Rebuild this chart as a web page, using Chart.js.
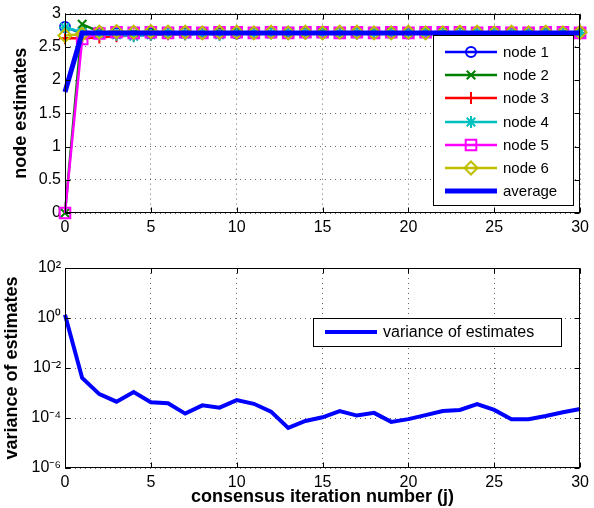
<!DOCTYPE html>
<html><head><meta charset="utf-8">
<script src="https://cdn.jsdelivr.net/npm/chart.js@4/dist/chart.umd.min.js"></script>
<style>
html,body{margin:0;padding:0;background:#fff;}
#wrap{position:relative;width:594px;height:508px;overflow:hidden;}
#c1{position:absolute;left:0;top:0;}
#c2{position:absolute;left:0;top:250px;}
</style></head><body>
<div id="wrap">
<canvas id="c1" width="594" height="250"></canvas>
<canvas id="c2" width="594" height="258"></canvas>
</div>
<script>
// ---------- data ----------
const iterations = [0,1,2,3,4,5,6,7,8,9,10,11,12,13,14,15,16,17,18,19,20,21,22,23,24,25,26,27,28,29,30];
const xTickValues = [0,5,10,15,20,25,30];
const xTickLabels = ['0','5','10','15','20','25','30'];
const estTickValues = [0,0.5,1,1.5,2,2.5,3];
const estTickLabels = ['0','0.5','1','1.5','2','2.5','3'];
const varTickValues = [1e-6,1e-4,1e-2,1,1e2];
const varTickLabels = ['10\u207B\u2076','10\u207B\u2074','10\u207B\u00B2','10\u2070','10\u00B2'];
const seriesNames = ['node 1','node 2','node 3','node 4','node 5','node 6','average'];

const node1 = [2.80,2.70,2.72,2.71,2.72,2.70,2.71,2.71,2.72,2.71,2.70,2.71,2.71,2.72,2.71,2.71,2.72,2.71,2.71,2.71,2.70,2.71,2.72,2.71,2.72,2.71,2.71,2.71,2.70,2.71,2.71];
const node2 = [0.00,2.84,2.73,2.70,2.71,2.72,2.71,2.70,2.71,2.71,2.72,2.71,2.70,2.71,2.71,2.72,2.71,2.71,2.72,2.71,2.71,2.72,2.71,2.70,2.71,2.71,2.71,2.72,2.71,2.71,2.72];
const node3 = [2.63,2.63,2.64,2.66,2.67,2.68,2.69,2.69,2.70,2.69,2.70,2.70,2.71,2.70,2.70,2.70,2.71,2.70,2.70,2.71,2.71,2.70,2.70,2.71,2.70,2.71,2.71,2.70,2.71,2.70,2.70];
const node4 = [2.79,2.72,2.69,2.68,2.66,2.68,2.70,2.69,2.70,2.68,2.70,2.71,2.70,2.72,2.71,2.70,2.71,2.70,2.71,2.70,2.71,2.71,2.70,2.70,2.72,2.70,2.71,2.71,2.71,2.70,2.71];
const node5 = [0.00,2.62,2.70,2.72,2.71,2.72,2.71,2.72,2.71,2.72,2.72,2.71,2.72,2.71,2.72,2.72,2.71,2.72,2.71,2.72,2.71,2.72,2.72,2.72,2.71,2.72,2.71,2.71,2.72,2.72,2.71];
const node6 = [2.67,2.69,2.72,2.73,2.72,2.73,2.72,2.72,2.71,2.72,2.72,2.71,2.72,2.71,2.72,2.71,2.72,2.72,2.71,2.71,2.72,2.71,2.71,2.72,2.72,2.71,2.72,2.71,2.72,2.71,2.72];
const average = [1.82,2.71,2.71,2.71,2.71,2.71,2.71,2.71,2.71,2.71,2.71,2.71,2.71,2.71,2.71,2.71,2.71,2.71,2.71,2.71,2.71,2.71,2.71,2.71,2.71,2.71,2.71,2.71,2.71,2.71,2.71];

const varianceName = 'variance of estimates';
const variance = [1.35,4.0e-3,9.0e-4,4.5e-4,1.1e-3,4.3e-4,3.9e-4,1.5e-4,3.2e-4,2.6e-4,5.2e-4,3.7e-4,1.8e-4,4.0e-5,7.6e-5,1.07e-4,1.9e-4,1.25e-4,1.6e-4,7.0e-5,9.0e-5,1.3e-4,1.9e-4,2.1e-4,3.6e-4,2.1e-4,9.0e-5,9.0e-5,1.2e-4,1.7e-4,2.3e-4];

// ---------- styles ----------
const FONT = "'Liberation Sans', Arial, Helvetica, sans-serif";
Chart.defaults.font.family = FONT;
Chart.defaults.color = '#000';

const nodeStyles = [
  {color:'#0000ff', point:'circle',   r:5},
  {color:'#008000', point:'crossRot', r:6},
  {color:'#ff0000', point:'cross',    r:6},
  {color:'#00bfbf', point:'star',     r:6},
  {color:'#ff00ff', point:'rect',     r:7.5},
  {color:'#bfbf00', point:'rectRot',  r:6.5}
];
const nodeSeries = [node1,node2,node3,node4,node5,node6];

function pts(arr){ return iterations.map((x,i)=>({x:x, y:arr[i]})); }

const framePlugin = {
  id:'frame',
  afterDatasetsDraw(chart){
    const {ctx, chartArea:a, scales} = chart;
    const L = 5;
    ctx.save();
    ctx.strokeStyle = '#000'; ctx.lineWidth = 1; ctx.setLineDash([]);
    const l = Math.round(a.left)+0.5, t = Math.round(a.top)+0.5, r = Math.round(a.right)-0.5, b = Math.round(a.bottom)-0.5;
    ctx.strokeRect(l, t, r-l, b-t);
    ctx.beginPath();
    scales.x.ticks.forEach(tk=>{
      const x = Math.round(scales.x.getPixelForValue(tk.value))+0.5;
      ctx.moveTo(x,b); ctx.lineTo(x,b-L); ctx.moveTo(x,t); ctx.lineTo(x,t+L);
    });
    scales.y.ticks.forEach(tk=>{
      const y = Math.round(scales.y.getPixelForValue(tk.value))+0.5;
      ctx.moveTo(l,y); ctx.lineTo(l+L,y); ctx.moveTo(r,y); ctx.lineTo(r-L,y);
    });
    ctx.stroke();
    ctx.restore();
  }
};

const legendBoxPlugin = {
  id:'legendBox',
  afterDraw(chart, args, o){
    if(!o || !o.display) return;
    const ctx = chart.ctx;
    const ds = chart.data.datasets;
    ctx.save();
    ctx.setLineDash([]);
    ctx.fillStyle = '#fff';
    ctx.fillRect(o.left, o.top, o.width, o.height);
    ctx.strokeStyle = '#000'; ctx.lineWidth = 1;
    ctx.strokeRect(o.left+0.5, o.top+0.5, o.width, o.height);
    ctx.font = o.font; ctx.textBaseline = 'middle'; ctx.textAlign = 'left';
    ds.forEach((d,i)=>{
      const y = Math.round(o.top + o.firstY + i*o.spacing);
      const x0 = o.left + o.sampleX;
      ctx.strokeStyle = d.borderColor; ctx.lineWidth = d.borderWidth;
      ctx.beginPath(); ctx.moveTo(x0,y); ctx.lineTo(x0+o.sampleW,y); ctx.stroke();
      if(d.pointRadius > 0 && Chart.helpers && Chart.helpers.drawPoint){
        ctx.fillStyle = 'rgba(0,0,0,0)';
        ctx.strokeStyle = d.borderColor; ctx.lineWidth = d.pointBorderWidth;
        Chart.helpers.drawPoint(ctx, {pointStyle:d.pointStyle, radius:d.pointRadius, rotation:0, borderWidth:d.pointBorderWidth}, x0+o.sampleW/2, y);
      }
      ctx.fillStyle = '#000';
      ctx.fillText(d.label, o.left + o.textX, y+1);
    });
    ctx.restore();
  }
};

const gridOpts = {color:'rgba(0,0,0,0.6)', lineWidth:1, drawTicks:false};
const borderOpts = {display:false, dash:[1,4]};
const tickFont = {size:16, family:FONT};
const titleFont = {size:18, weight:'bold', family:FONT};

// ---------- top chart ----------
const topDatasets = nodeSeries.map((arr,i)=>({
  label: seriesNames[i],
  data: pts(arr),
  borderColor: nodeStyles[i].color,
  backgroundColor: 'rgba(0,0,0,0)',
  borderWidth: 2.5,
  pointStyle: nodeStyles[i].point,
  pointRadius: nodeStyles[i].r,
  pointBorderWidth: 2,
  pointBackgroundColor: 'rgba(0,0,0,0)',
  pointBorderColor: nodeStyles[i].color,
  clip: false,
  order: 7-i
}));
topDatasets.push({
  label: seriesNames[6],
  data: pts(average),
  borderColor:'#0000ff',
  backgroundColor:'rgba(0,0,0,0)',
  borderWidth:5,
  pointRadius:0,
  pointStyle:'line',
  clip:false,
  order:0
});

new Chart(document.getElementById('c1'), {
  type:'line',
  data:{datasets: topDatasets},
  options:{
    responsive:false, animation:false,
    layout:{padding:{top:13, right:10, left:0, bottom:0}},
    plugins:{legend:{display:false}, tooltip:{enabled:false},
      legendBox:{display:true, left:433, top:35, width:140, height:170, firstY:17, spacing:23.2, sampleX:12, sampleW:52, textX:70, font:"15px "+FONT}},
    scales:{
      x:{type:'linear', min:0, max:30,
        afterBuildTicks(s){ s.ticks = xTickValues.map(v=>({value:v})); },
        afterFit(s){ s.height = 37; },
        ticks:{font:tickFont, padding:5, maxRotation:0, callback:(v,i)=>xTickLabels[i]},
        grid:gridOpts, border:borderOpts},
      y:{type:'linear', min:0, max:3,
        afterBuildTicks(s){ s.ticks = estTickValues.map(v=>({value:v})); },
        afterFit(s){ s.width = 65; },
        ticks:{font:tickFont, padding:4, callback:(v,i)=>estTickLabels[i]},
        title:{display:true, text:'node estimates', font:titleFont, padding:{top:10,bottom:0}},
        grid:gridOpts, border:borderOpts}
    }
  },
  plugins:[framePlugin, legendBoxPlugin]
});

// ---------- bottom chart ----------
new Chart(document.getElementById('c2'), {
  type:'line',
  data:{datasets:[{
    label: varianceName,
    data: pts(variance),
    borderColor:'#0000ff',
    backgroundColor:'rgba(0,0,0,0)',
    borderWidth:4,
    pointRadius:0,
    pointStyle:'line',
    clip:false
  }]},
  options:{
    responsive:false, animation:false,
    layout:{padding:{top:18, right:10, left:0, bottom:0}},
    plugins:{legend:{display:false}, tooltip:{enabled:false},
      legendBox:{display:true, left:313, top:68, width:248, height:28, firstY:14, spacing:0, sampleX:12, sampleW:52, textX:70, font:"16px "+FONT}},
    scales:{
      x:{type:'linear', min:0, max:30,
        afterBuildTicks(s){ s.ticks = xTickValues.map(v=>({value:v})); },
        afterFit(s){ s.height = 40; },
        ticks:{font:tickFont, padding:5, maxRotation:0, callback:(v,i)=>xTickLabels[i]},
        title:{display:true, text:'consensus iteration number (j)', font:titleFont, padding:{top:0,bottom:0}},
        grid:gridOpts, border:borderOpts},
      y:{type:'logarithmic', min:1e-6, max:1e2,
        afterBuildTicks(s){ s.ticks = varTickValues.map(v=>({value:v})); },
        afterFit(s){ s.width = 65; },
        ticks:{font:tickFont, padding:4, callback:(v,i)=>varTickLabels[i]},
        title:{display:true, text:'variance of estimates', font:titleFont, padding:{top:1,bottom:0}},
        grid:gridOpts, border:borderOpts}
    }
  },
  plugins:[framePlugin, legendBoxPlugin]
});
</script>
</body></html>
